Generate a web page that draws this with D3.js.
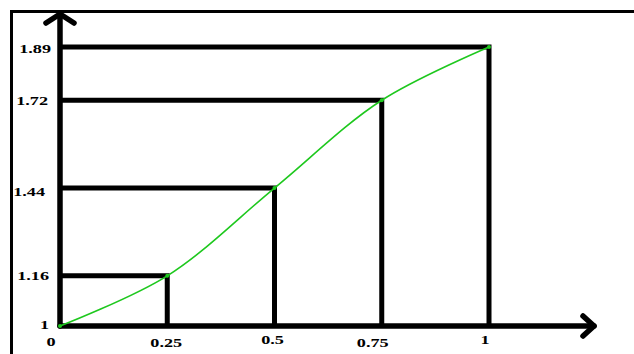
<!DOCTYPE html>
<html><head><meta charset="utf-8">
<script src="https://cdn.jsdelivr.net/npm/d3@7"></script>
<style>html,body{margin:0;padding:0;background:#fff;}svg{display:block;}</style>
</head><body>
<svg id="c" width="634" height="354"></svg>
<script>
const xVals = [0, 0.25, 0.5, 0.75, 1];
const yVals = [1, 1.16, 1.44, 1.72, 1.89];
const xTickLabels = ["0", "0.25", "0.5", "0.75", "1"];
const yTickLabels = ["1", "1.16", "1.44", "1.72", "1.89"];

const svg = d3.select("#c");
const x = d3.scaleLinear().domain([0, 1]).range([60, 489]);
const y = d3.scaleLinear().domain([1, 1.89]).range([326, 47]);
const x0 = x(0), y0 = y(1);

// frame
svg.append("path").attr("d", `M11.5,354 V11.5 H634`).attr("fill", "none")
  .attr("stroke", "#000").attr("stroke-width", 3);

// guide lines
const g = svg.append("g").attr("stroke", "#000").attr("stroke-width", 5).attr("fill", "none");
xVals.forEach((xv, i) => {
  if (i === 0) return;
  g.append("path").attr("d", `M${x0},${y(yVals[i])} H${x(xv)} V${y0}`);
});

// axes
const ax = svg.append("g").attr("stroke", "#000").attr("fill", "none").attr("stroke-width", 5.5)
  .attr("stroke-linecap", "round").attr("stroke-linejoin", "round");
ax.append("path").attr("d", `M${x0},${y0} V14`);
ax.append("path").attr("d", `M${x0 - 14},23 L${x0},14 L${x0 + 14},23`);
ax.append("path").attr("d", `M${x0},${y0} H594`);
ax.append("path").attr("d", `M583,316 L594,${y0} L583,336`);

// curve
const pts = xVals.map((v, i) => [x(v), y(yVals[i])]);
svg.append("path").attr("d", d3.line().curve(d3.curveCatmullRom.alpha(0.5))(pts))
  .attr("fill", "none").attr("stroke", "#1ec81e").attr("stroke-width", 1.6);
svg.selectAll("circle.p").data(pts).join("circle").attr("class", "p")
  .attr("cx", d => d[0]).attr("cy", d => d[1]).attr("r", 2).attr("fill", "#1ec81e");

// labels (wide bold serif)
const font = "'Liberation Serif', 'DejaVu Serif', serif";
const lab = svg.append("g").attr("font-family", font).attr("font-weight", "bold")
  .attr("font-size", 13).attr("fill", "#000");
function label(px, py, txt, anchor) {
  lab.append("g").attr("transform", `translate(${px},${py}) scale(1.4,1)`)
    .append("text").attr("text-anchor", anchor).text(txt);
}
const yRight = [49, 49, 45, 48, 51];
const yBase = [3, 4, 7.5, 4.5, 5.5];
yVals.forEach((v, i) => label(yRight[i], y(v) + yBase[i], yTickLabels[i], "end"));
const xNudge = [-9, -1, -2, -9, -4];
const xBase = [20, 20.5, 17.5, 20.5, 17.5];
xVals.forEach((v, i) => label(x(v) + xNudge[i], y0 + xBase[i], xTickLabels[i], "middle"));
</script>
</body></html>
